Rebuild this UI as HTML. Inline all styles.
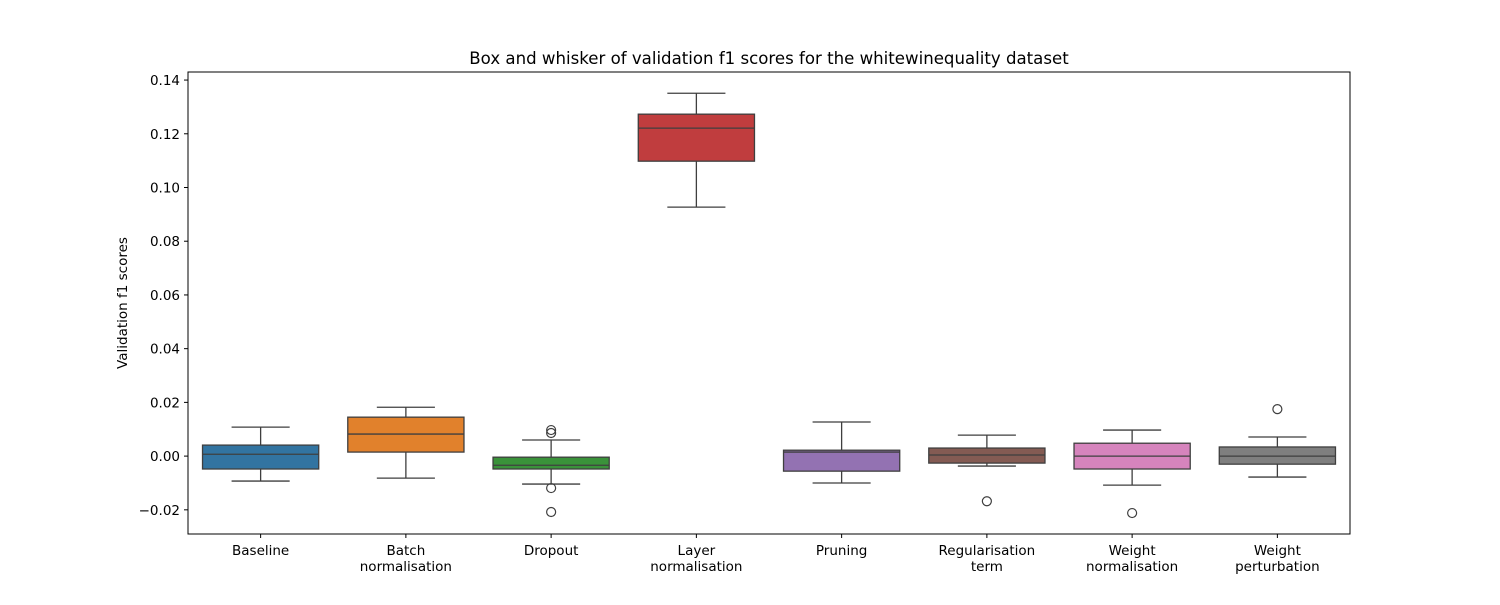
<!DOCTYPE html>
<html><head><meta charset="utf-8"><style>
body{margin:0;background:#fff;}
svg text{font-family:"DejaVu Sans","Liberation Sans",sans-serif;fill:#000;}
</style></head><body>
<svg id="chart" width="1500" height="600" xmlns="http://www.w3.org/2000/svg">
<rect width="1500" height="600" fill="#fff"/>
<text x="769" y="64" font-size="16.6" text-anchor="middle">Box and whisker of validation f1 scores for the whitewinequality dataset</text>
<text transform="translate(127,303) rotate(-90)" font-size="13.5" text-anchor="middle">Validation f1 scores</text>
<g id="marks"></g>
<rect x="188" y="72" width="1162" height="462" fill="none" stroke="#000" stroke-width="1"/>
</svg>
<script>
const categories=["Baseline","Batch\nnormalisation","Dropout","Layer\nnormalisation","Pruning","Regularisation\nterm","Weight\nnormalisation","Weight\nperturbation"];
const whiskerLow=[-0.0093,-0.0082,-0.0104,0.0927,-0.0100,-0.0037,-0.0108,-0.0078];
const q1=[-0.0048,0.0015,-0.0048,0.1098,-0.0056,-0.0026,-0.0048,-0.0030];
const median=[0.0007,0.0082,-0.0034,0.1221,0.0015,0.0004,0.0000,0.0000];
const q3=[0.0041,0.0145,-0.0004,0.1273,0.0022,0.0030,0.0048,0.0034];
const whiskerHigh=[0.0108,0.0182,0.0060,0.1351,0.0127,0.0078,0.0097,0.0071];
const outliers=[[],[],[0.0097,0.0086,-0.0119,-0.0208],[],[],[-0.0168],[-0.0212],[0.0175]];
const colors=["#3274a1","#e1812c","#3a923a","#c03d3e","#9372b2","#845b53","#d684bd","#7f7f7f"];
const yTicks=[-0.02,0,0.02,0.04,0.06,0.08,0.10,0.12,0.14];
const yTickLabels=["\u22120.02","0.00","0.02","0.04","0.06","0.08","0.10","0.12","0.14"];
const X0=188,X1=1350,Y0=534,Y1=72,vMin=-0.0290,vMax=0.1430;
const y=v=>Y0-(v-vMin)/(vMax-vMin)*(Y0-Y1);
const band=(X1-X0)/categories.length;
const x=i=>X0+band*(i+0.5);
const NS="http://www.w3.org/2000/svg";
const g=document.getElementById("marks");
function mk(t,a){const e=document.createElementNS(NS,t);for(const k in a)e.setAttribute(k,a[k]);g.appendChild(e);return e;}
yTicks.forEach((v,i)=>{
  const t=mk("line",{x1:X0-4,x2:X0,y1:y(v),y2:y(v),stroke:"#000"});
  
  
  const l=mk("text",{x:X0-8,y:y(v)+5,"font-size":"13.5","text-anchor":"end"});
  l.textContent=yTickLabels[i];
  
  
});
const bw=band*0.8,cw=bw/2,lc="#3f3f3f";
categories.forEach((c,i)=>{
  const cx=x(i);
  const t=mk("line",{x1:cx,x2:cx,y1:Y0,y2:Y0+4,stroke:"#000"});
  
  
  c.split("\n").forEach((ln,j)=>{
    const l=mk("text",{x:cx,y:555+j*16,"font-size":"13.5","text-anchor":"middle"});
    l.textContent=ln;
    
    
  });
  const w1=mk("line",{x1:cx,x2:cx,y1:y(whiskerLow[i]),y2:y(q1[i]),stroke:lc,"stroke-width":1.3});
  
  
  const w2=mk("line",{x1:cx,x2:cx,y1:y(q3[i]),y2:y(whiskerHigh[i]),stroke:lc,"stroke-width":1.3});
  
  
  [whiskerLow[i],whiskerHigh[i]].forEach(v=>{
    const cap=mk("line",{x1:cx-cw/2,x2:cx+cw/2,y1:y(v),y2:y(v),stroke:lc,"stroke-width":1.3});
    
    
  });
  const b=mk("rect",{x:cx-bw/2,y:y(q3[i]),width:bw,height:Math.max(1,y(q1[i])-y(q3[i])),fill:colors[i],stroke:lc,"stroke-width":1.3});
  
  
  const m=mk("line",{x1:cx-bw/2,x2:cx+bw/2,y1:y(median[i]),y2:y(median[i]),stroke:lc,"stroke-width":1.3});
  
  
  outliers[i].forEach(v=>{
    const o=mk("circle",{cx:cx,cy:y(v),r:4.5,fill:"none",stroke:lc,"stroke-width":1.2});
    
    
  });
});
</script>
</body></html>
